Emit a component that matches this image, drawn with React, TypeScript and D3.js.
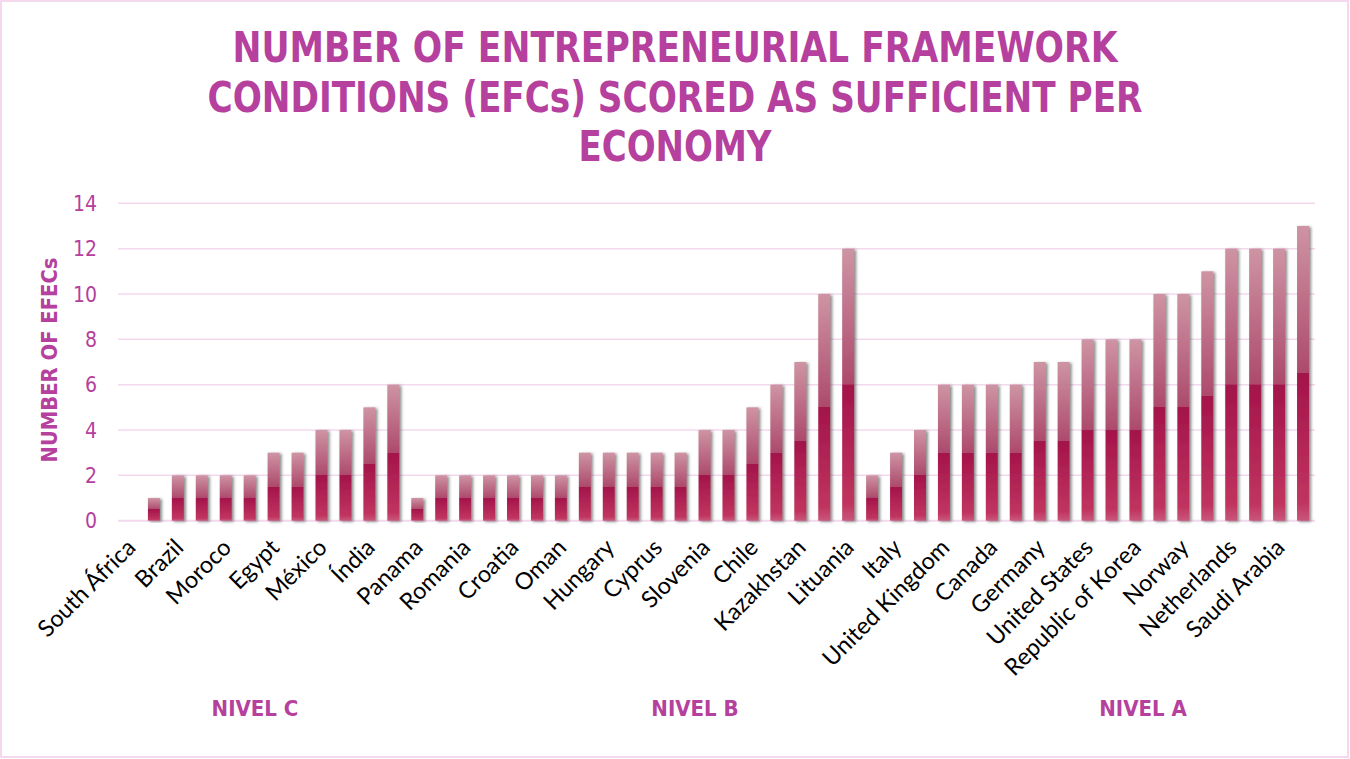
import React from "react";
import * as d3 from "d3";

const title = [
  "NUMBER OF ENTREPRENEURIAL FRAMEWORK",
  "CONDITIONS (EFCs) SCORED AS SUFFICIENT PER",
  "ECONOMY",
];
const titleWidths = [885, 935, 193];
const yTitle = "NUMBER OF EFECs";

// tick labels shown on every other category (Excel skips alternate labels)
const tickLabels = [
  "South África", "Brazil", "Moroco", "Egypt", "México", "Índia",
  "Panama", "Romania", "Croatia", "Oman", "Hungary", "Cyprus", "Slovenia",
  "Chile", "Kazakhstan", "Lituania",
  "Italy", "United Kingdom", "Canada", "Germany", "United States",
  "Republic of Korea", "Norway", "Netherlands", "Saudi Arabia",
];

const nivelC = [0, 1, 2, 2, 2, 2, 3, 3, 4, 4, 5, 6];
const nivelB = [1, 2, 2, 2, 2, 2, 2, 3, 3, 3, 3, 3, 4, 4, 5, 6, 7, 10, 12];
const nivelA = [2, 3, 4, 6, 6, 6, 6, 7, 7, 8, 8, 8, 10, 10, 11, 12, 12, 12, 13];
const values = [...nivelC, ...nivelB, ...nivelA];

const groups = ["NIVEL C", "NIVEL B", "NIVEL A"];
const groupLabelX = [255, 695, 1143];

const yTicks = [0, 2, 4, 6, 8, 10, 12, 14];

const W = 1350;
const H = 759;
const PURPLE = "#b5409d";
const GRID = "#f3d8ee";
const COND = "'DejaVu Sans Condensed', 'DejaVu Sans', sans-serif";

export default function App() {
  const x = d3
    .scaleBand<number>()
    .domain(d3.range(values.length))
    .range([118, 1315])
    .paddingInner(0.5)
    .paddingOuter(0.25);
  const y = d3.scaleLinear().domain([0, 14]).range([520.7, 203.3]);
  const bw = x.bandwidth();

  return (
    <svg
      width={W}
      height={H}
      style={{ position: "absolute", left: 0, top: 0, display: "block", background: "#fff" }}
    >
      <defs>
        <linearGradient id="barGrad" x1="0" y1="0" x2="0" y2="1">
          <stop offset="0%" stopColor="#ce94a4" />
          <stop offset="49.9%" stopColor="#ad4a6c" />
          <stop offset="50%" stopColor="#a3144a" />
          <stop offset="94%" stopColor="#c03460" />
          <stop offset="100%" stopColor="#c9577b" />
        </linearGradient>
        <filter id="shadow" x="-50%" y="-10%" width="200%" height="120%">
          <feDropShadow dx="2" dy="1" stdDeviation="1.4" floodColor="#555" floodOpacity="0.7" />
        </filter>
      </defs>
      <rect x={1} y={1} width={W - 3} height={H - 3} fill="#fff" stroke={GRID} strokeWidth={2} />

      {title.map((t, i) => (
        <text
          key={i}
          x={675}
          y={62 + i * 49.5}
          textAnchor="middle"
          fill={PURPLE}
          fontFamily={COND}
          fontWeight="bold"
          fontSize={42}
          textLength={titleWidths[i]}
          lengthAdjust="spacingAndGlyphs"
        >
          {t}
        </text>
      ))}

      {yTicks.map((t) => (
        <g key={t}>
          <line x1={118} x2={1315} y1={y(t)} y2={y(t)} stroke={GRID} strokeWidth={t === 0 ? 2 : 1.5} />
          <text
            x={97}
            y={y(t)}
            dy="0.36em"
            textAnchor="end"
            fill={PURPLE}
            fontFamily={COND}
            fontSize={21}
          >
            {t}
          </text>
        </g>
      ))}

      <text
        transform={`translate(57, 360) rotate(-90)`}
        textAnchor="middle"
        fill={PURPLE}
        fontFamily={COND}
        fontWeight="bold"
        fontSize={22}
        textLength={205}
        lengthAdjust="spacingAndGlyphs"
      >
        {yTitle}
      </text>

      {values.map((v, i) =>
        v > 0 ? (
          <rect
            key={i}
            x={x(i)}
            y={y(v)}
            width={bw}
            height={y(0) - y(v)}
            fill="url(#barGrad)"
            filter="url(#shadow)"
          />
        ) : null
      )}

      {tickLabels.map((lab, j) => {
        const cx = (x(j * 2) as number) + bw / 2;
        return (
          <text
            key={lab}
            transform={`translate(${cx + 7}, 549) rotate(-45)`}
            textAnchor="end"
            fill="#000"
            fontFamily="Lato, sans-serif"
            fontSize={23.5}
          >
            {lab}
          </text>
        );
      })}

      {groups.map((g, i) => (
        <text
          key={g}
          x={groupLabelX[i]}
          y={716}
          textAnchor="middle"
          fill={PURPLE}
          fontFamily={COND}
          fontWeight="bold"
          fontSize={22}
        >
          {g}
        </text>
      ))}
    </svg>
  );
}
